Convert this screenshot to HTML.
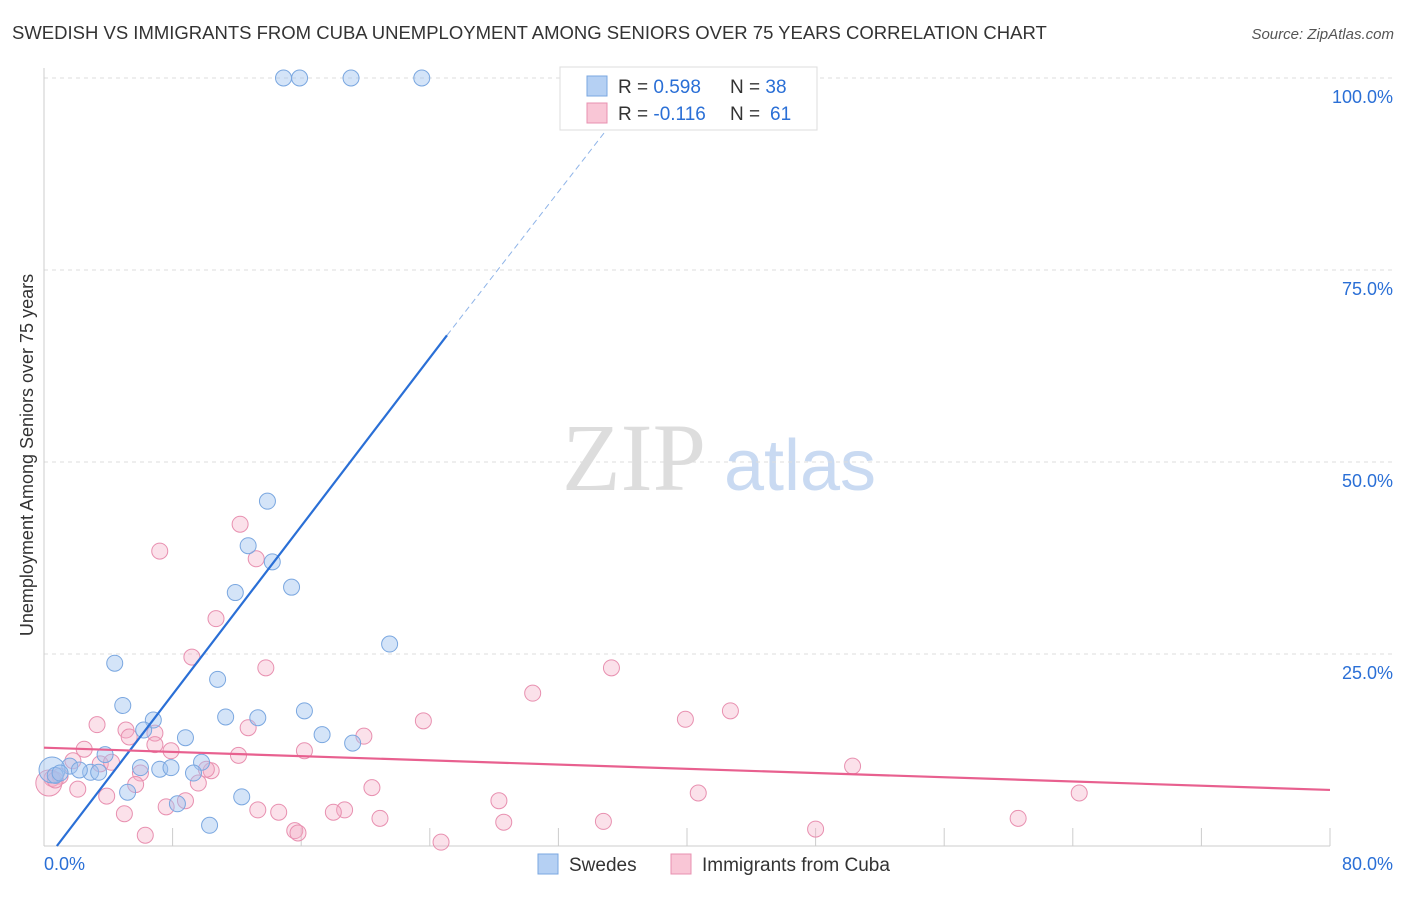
<!DOCTYPE html>
<html><head><meta charset="utf-8"><style>
body{margin:0;background:#fff;font-family:"Liberation Sans",sans-serif}
</style></head><body>
<svg id="chart" width="1406" height="892" xmlns="http://www.w3.org/2000/svg">
<text x="12" y="39" font-size="18.5" fill="#333">SWEDISH VS IMMIGRANTS FROM CUBA UNEMPLOYMENT AMONG SENIORS OVER 75 YEARS CORRELATION CHART</text>
<text x="1394" y="39" font-size="15" fill="#555" font-style="italic" text-anchor="end">Source: ZipAtlas.com</text>
<text x="0" y="0" transform="translate(33,455) rotate(-90)" font-size="18" fill="#333" text-anchor="middle">Unemployment Among Seniors over 75 years</text>
<g><text x="634" y="490" font-size="96" fill="#ddd" font-family="Liberation Serif,serif" text-anchor="middle">ZIP</text><text x="800" y="490" font-size="72" fill="#c9daf2" text-anchor="middle">atlas</text></g>
<g id="grid"></g><g id="axes"></g><g id="pts"></g><g id="lines"></g>
<g>
<rect x="560" y="67" width="257" height="63" fill="#fff" stroke="#ddd"/>
<rect x="587" y="76" width="20" height="20" fill="#b5d0f3" stroke="#7aa7e0"/>
<rect x="587" y="103" width="20" height="20" fill="#f9c6d6" stroke="#e890b0"/>
<text x="618" y="93" font-size="19" fill="#333">R = <tspan fill="#2a6fd6">0.598</tspan><tspan x="730">N = </tspan><tspan fill="#2a6fd6">38</tspan></text>
<text x="618" y="120" font-size="19" fill="#333">R = <tspan fill="#2a6fd6">-0.116</tspan><tspan x="730">N = </tspan><tspan x="770" fill="#2a6fd6">61</tspan></text>
</g>
<g>
<rect x="538" y="854" width="20" height="20" fill="#b5d0f3" stroke="#7aa7e0"/><text x="569" y="871" font-size="19" fill="#333">Swedes</text>
<rect x="671" y="854" width="20" height="20" fill="#f9c6d6" stroke="#e890b0"/><text x="702" y="871" font-size="19" fill="#333">Immigrants from Cuba</text>
</g>
</svg>
<script>
const yTicks=[25,50,75,100];
const xTickLabels=["0.0%","80.0%"];
const blueX=[14.9,15.9,19.1,23.5,13.9,12.7,14.2,11.9,15.4,21.5,4.4,10.8,4.9,6.8,11.3,13.3,16.2,6.2,8.8,17.3,19.2,3.8,1.6,2.9,3.4,6.0,7.2,7.9,9.8,9.3,5.2,8.3,12.3,10.3,0.5,0.7,1.0,2.2];
const blueY=[100,100,100,100,44.9,39.1,37.0,33.0,33.7,26.3,23.8,21.7,18.3,16.4,16.8,16.7,17.6,15.1,14.1,14.5,13.4,11.9,10.4,9.6,9.6,10.2,10.0,10.2,10.9,9.5,7.0,5.5,6.4,2.7,9.9,9.2,9.5,9.9];
const pinkX=[7.2,12.2,13.2,10.7,9.2,13.8,35.3,30.4,42.7,39.9,23.6,3.3,5.1,12.7,19.9,5.3,6.9,6.9,2.5,7.9,12.1,16.2,3.5,4.2,1.8,6.0,10.4,10.1,50.3,0.5,1.0,2.1,3.9,5.7,9.6,20.4,7.6,8.8,13.3,14.6,18.7,18.0,28.3,40.7,64.4,5.0,20.9,28.6,34.8,60.6,48.0,6.3,15.6,15.8,24.7,0.3,0.7];
const pinkY=[38.4,41.9,37.4,29.6,24.6,23.2,23.2,19.9,17.6,16.5,16.3,15.8,15.1,15.4,14.3,14.2,14.7,13.2,12.6,12.4,11.8,12.4,10.7,10.9,11.1,9.5,9.8,10.0,10.4,8.8,9.1,7.4,6.5,8.0,8.2,7.6,5.1,5.9,4.7,4.4,4.7,4.4,5.9,6.9,6.9,4.2,3.6,3.1,3.2,3.6,2.2,1.4,2.0,1.7,0.5,8.2,8.6];
const blueTrend=[[0.8,0],[25.07,66.5]];
const blueDash=[[25.07,66.5],[34.9,93]];
const pinkTrend=[[0,12.8],[80,7.3]];
const X=v=>44+v/80*1286, Y=v=>846-v/100*768;
const NS="http://www.w3.org/2000/svg";
function mk(t,a,p){const e=document.createElementNS(NS,t);for(const k in a)e.setAttribute(k,a[k]);p.appendChild(e);return e;}
const grid=document.getElementById('grid'),axes=document.getElementById('axes');
yTicks.forEach(v=>{
 const l=mk('line',{x1:44,x2:1394,y1:Y(v),y2:Y(v),stroke:'#ddd','stroke-dasharray':'4,4'},grid);
 
 
 const t=mk('text',{x:1393,y:Y(v)+25,'font-size':18,fill:'#2a6fd6','text-anchor':'end'},grid);t.textContent=v.toFixed(1)+'%';
 
 
});
mk('line',{x1:44,x2:44,y1:68,y2:846,stroke:'#ccc'},axes);
mk('line',{x1:44,x2:1330,y1:846,y2:846,stroke:'#ccc'},axes);
for(let i=0;i<=10;i++){mk('line',{x1:X(i*8),x2:X(i*8),y1:828,y2:846,stroke:'#ccc'},axes);}
const xl0=mk('text',{x:44,y:870,'font-size':18,fill:'#2a6fd6'},axes);xl0.textContent=xTickLabels[0];


const xl1=mk('text',{x:1393,y:870,'font-size':18,fill:'#2a6fd6','text-anchor':'end'},axes);xl1.textContent=xTickLabels[1];


const pts=document.getElementById('pts');
pinkX.forEach((x,i)=>{const c=mk('circle',{cx:X(x),cy:Y(pinkY[i]),r:(x<0.4?13:8),fill:'rgba(244,170,195,0.35)',stroke:'#e890b0','stroke-width':1},pts);
 
 });
blueX.forEach((x,i)=>{const c=mk('circle',{cx:X(x),cy:Y(blueY[i]),r:(x<0.6?13:8),fill:'rgba(160,196,240,0.45)',stroke:'#7aa7e0','stroke-width':1},pts);
 
 });
const lines=document.getElementById('lines');
const b=mk('line',{x1:X(blueTrend[0][0]),y1:Y(blueTrend[0][1]),x2:X(blueTrend[1][0]),y2:Y(blueTrend[1][1]),stroke:'#2a6fd6','stroke-width':2.2},lines);


const bd=mk('line',{x1:X(blueDash[0][0]),y1:Y(blueDash[0][1]),x2:X(blueDash[1][0]),y2:Y(blueDash[1][1]),stroke:'#8fb4e8','stroke-width':1,'stroke-dasharray':'6,4'},lines);


const p=mk('line',{x1:X(pinkTrend[0][0]),y1:Y(pinkTrend[0][1]),x2:X(pinkTrend[1][0]),y2:Y(pinkTrend[1][1]),stroke:'#e8608f','stroke-width':2.2},lines);


</script>
</body></html>
